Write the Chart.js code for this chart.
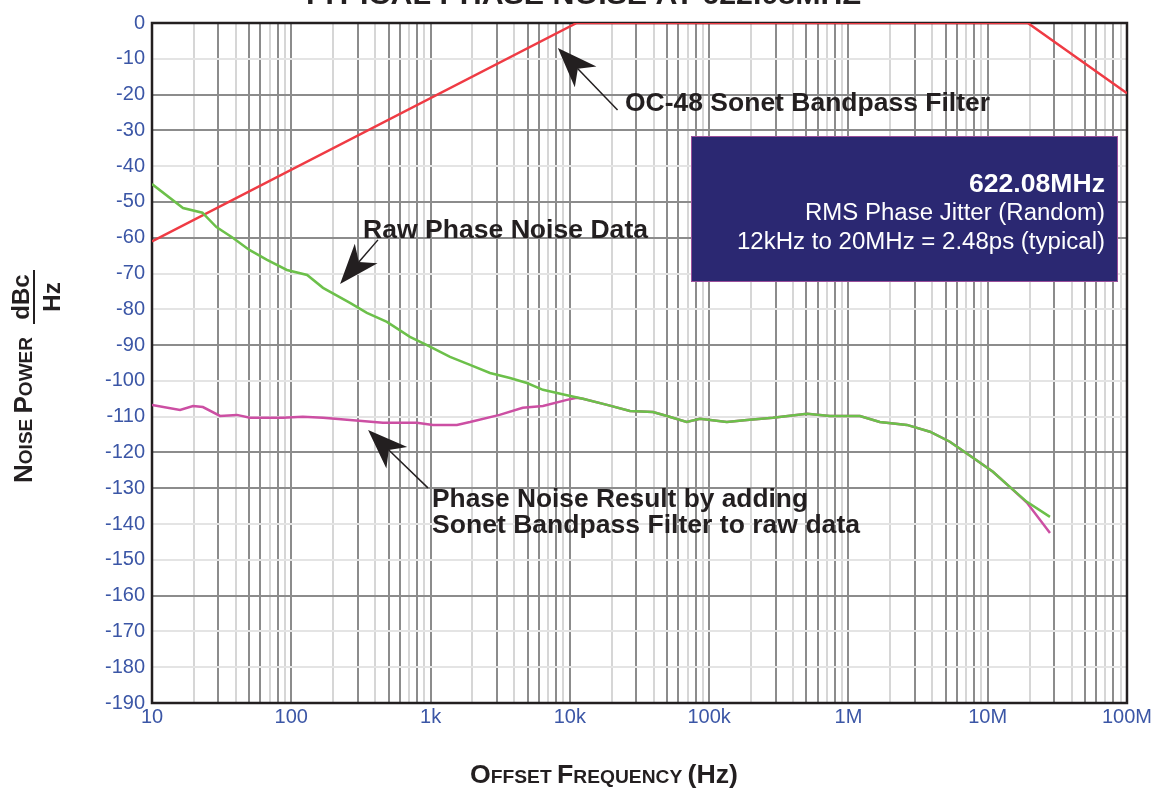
<!DOCTYPE html>
<html>
<head>
<meta charset="utf-8">
<script src="https://cdn.jsdelivr.net/npm/chart.js@4.4.0/dist/chart.umd.min.js"></script>
<style>
html, body { margin:0; padding:0; background:#fff; }
#wrap { width:1154px; height:790px; position:relative; }
</style>
</head>
<body>
<div id="wrap"><canvas id="canvas"></canvas></div>
<script>
// axis ticks
var xDecades = [10, 100, 1e3, 1e4, 1e5, 1e6, 1e7, 1e8];
var xTickLabels = ['10', '100', '1k', '10k', '100k', '1M', '10M', '100M'];

// OC-48 sonet bandpass filter
var filterFreq = [10, 11200, 1.94e7, 1e8];
var filterDb = [-61, 0, 0, -19.6];

// raw phase noise data
var rawFreq = [10, 16.7, 23, 29, 38, 50, 67, 93, 130, 169,
  264, 349, 486, 711, 942, 1380, 1920, 2670, 3720, 4920,
  6410, 9530, 12400, 18500, 27000, 39500, 49800, 69000, 86000, 134000,
  187000, 287000, 504000, 736000, 1.21e6, 1.68e6, 2.63e6, 3.85e6, 5.35e6, 7.84e6,
  1.09e7, 1.44e7, 1.91e7, 2.8e7];
var rawDb = [-45, -51.7, -53, -57, -60, -63.4, -66.2, -69, -70.4, -74,
  -78.2, -81, -83.5, -87.7, -90, -93.3, -95.5, -97.8, -99.2, -100.6,
  -102.5, -104, -105, -106.7, -108.4, -108.7, -109.8, -111.5, -110.6, -111.5,
  -110.9, -110.3, -109.2, -109.8, -109.8, -111.5, -112.3, -114.2, -117, -121.5,
  -125.4, -129.6, -133.8, -138];

// result with filter applied
var resultFreq = [10, 15.9, 19.7, 23.2, 30.8, 40.7, 50.5, 87, 121, 169,
  264, 455, 797, 1040, 1545, 1919, 3130, 4590, 6410, 9530,
  11200, 12400, 18500, 27000, 39500, 49800, 69000, 86000, 134000, 187000, 287000,
  504000, 736000, 1.21e6, 1.68e6, 2.63e6, 3.85e6, 5.35e6, 7.84e6, 1.09e7, 1.44e7,
  1.91e7, 2.8e7];
var resultDb = [-106.7, -108.1, -107, -107.3, -109.8, -109.5, -110.3, -110.3, -110, -110.3,
  -110.9, -111.7, -111.7, -112.3, -112.3, -111.5, -109.5, -107.5, -107, -105.3,
  -104.7, -105, -106.7, -108.4, -108.7, -109.8, -111.5, -110.6, -111.5, -110.9, -110.3,
  -109.2, -109.8, -109.8, -111.5, -112.3, -114.2, -117, -121.5, -125.4, -129.6,
  -134, -142.5];

function pairs(xs, ys) {
  var out = [];
  for (var i = 0; i < xs.length; i++) out.push({x: xs[i], y: ys[i]});
  return out;
}

var darkY = [-20, -30, -50, -60, -90, -120, -130, -160];
var darkX = [1, 3, 5, 6, 8];
var gridDark = '#8c8c8c', gridLight = '#d6d6d6';
var tickBlue = '#3b56a6', ink = '#231f20';
var FONT = '"Liberation Sans", Arial, Helvetica, sans-serif';

function arrow(ctx, x1, y1, x2, y2) {
  // x1,y1 tail -> x2,y2 tip
  var a = Math.atan2(y2 - y1, x2 - x1), L = 40, W = 15;
  var bx = x2 - L * Math.cos(a), by = y2 - L * Math.sin(a);
  var nx = x2 - 0.72 * L * Math.cos(a), ny = y2 - 0.72 * L * Math.sin(a);
  ctx.strokeStyle = ink; ctx.lineWidth = 1.5;
  ctx.beginPath(); ctx.moveTo(x1, y1); ctx.lineTo(nx, ny); ctx.stroke();
  ctx.fillStyle = ink;
  ctx.beginPath();
  ctx.moveTo(x2, y2);
  ctx.lineTo(bx - W * Math.sin(a), by + W * Math.cos(a));
  ctx.lineTo(nx, ny);
  ctx.lineTo(bx + W * Math.sin(a), by - W * Math.cos(a));
  ctx.closePath(); ctx.fill();
}

// draw text stretched/squeezed horizontally to a target width
function fitText(ctx, text, x, y, w, align) {
  var m = ctx.measureText(text).width;
  var sx = w / m;
  ctx.save();
  ctx.textAlign = 'left';
  var left = align === 'right' ? x - w : (align === 'center' ? x - w / 2 : x);
  ctx.translate(left, y);
  ctx.scale(sx, 1);
  ctx.fillText(text, 0, 0);
  ctx.restore();
}

function smallCaps(ctx, parts, cx, y, target) {
  var w = 0;
  parts.forEach(function (p) { ctx.font = 'bold ' + p[1] + 'px ' + FONT; w += ctx.measureText(p[0]).width; });
  var sx = target ? target / w : 1;
  ctx.save();
  ctx.translate(cx - w * sx / 2, y);
  ctx.scale(sx, 1);
  ctx.textAlign = 'left';
  var x = 0;
  parts.forEach(function (p) {
    ctx.font = 'bold ' + p[1] + 'px ' + FONT;
    ctx.fillText(p[0], x, 0);
    x += ctx.measureText(p[0]).width;
  });
  ctx.restore();
}

var decor = {
  id: 'decor',
  beforeDatasetsDraw: function (chart) {
    var a = chart.chartArea, ctx = chart.ctx;
    ctx.save();
    ctx.strokeStyle = ink; ctx.lineWidth = 2.5;
    ctx.strokeRect(a.left, a.top, a.right - a.left, a.bottom - a.top);
    ctx.restore();
  },
  afterDraw: function (chart) {
    var ctx = chart.ctx, xs = chart.scales.x, ys = chart.scales.y;
    function px(f) { return xs.getPixelForValue(f); }
    function py(d) { return ys.getPixelForValue(d); }
    ctx.save();
    ctx.fillStyle = ink;
    ctx.textBaseline = 'alphabetic';

    // title (cut off at top)
    ctx.font = 'bold 27px ' + FONT;
    fitText(ctx, 'TYPICAL PHASE NOISE AT 622.08MHZ', 581, 4, 560, 'center');

    // arrows
    arrow(ctx, px(22000), py(-24.3), px(8200), py(-7));
    arrow(ctx, px(419), py(-60.6), px(224), py(-72.9));
    arrow(ctx, px(957), py(-129.9), px(356), py(-113.7));

    ctx.font = 'bold 26px ' + FONT;
    fitText(ctx, 'OC-48 Sonet Bandpass Filter', 625, 111, 365, 'left');
    fitText(ctx, 'Raw Phase Noise Data', 363, 238, 285, 'left');
    fitText(ctx, 'Phase Noise Result by adding', 432, 507, 376, 'left');
    fitText(ctx, 'Sonet Bandpass Filter to raw data', 432, 533, 428, 'left');

    // info box
    ctx.fillStyle = '#2b2872';
    ctx.fillRect(691, 136, 427, 146);
    ctx.strokeStyle = '#9a4f9a'; ctx.lineWidth = 1;
    ctx.strokeRect(691.5, 136.5, 426, 145);
    ctx.fillStyle = '#ffffff';
    ctx.font = 'bold 25px ' + FONT;
    fitText(ctx, '622.08MHz', 1105, 192, 136, 'right');
    ctx.font = '23px ' + FONT;
    fitText(ctx, 'RMS Phase Jitter (Random)', 1105, 220, 300, 'right');
    fitText(ctx, '12kHz to 20MHz = 2.48ps (typical)', 1105, 249, 368, 'right');

    // x axis title
    ctx.fillStyle = ink;
    smallCaps(ctx, [['O', 25], ['FFSET ', 18], ['F', 25], ['REQUENCY ', 18], ['(Hz)', 25]], 604, 783, 268);

    // y axis title
    ctx.save();
    ctx.translate(32, 410);
    ctx.rotate(-Math.PI / 2);
    smallCaps(ctx, [['N', 26], ['OISE ', 19], ['P', 26], ['OWER', 19]], 0, 0);
    ctx.restore();
    ctx.save();
    ctx.translate(0, 297);
    ctx.rotate(-Math.PI / 2);
    ctx.textAlign = 'center';
    ctx.font = 'bold 24px ' + FONT;
    ctx.fillText('dBc', 0, 29);
    ctx.fillText('Hz', 0, 60);
    ctx.fillRect(-27, 33, 54, 2);
    ctx.restore();

    ctx.restore();
  }
};

var ctx = document.getElementById('canvas').getContext('2d');
var chart = new Chart(ctx, {
  type: 'line',
  data: {
    datasets: [{
      label: 'Raw Phase Noise Data',
      data: pairs(rawFreq, rawDb),
      borderColor: '#6cc04a',
      borderWidth: 2.5,
      pointRadius: 0,
      tension: 0,
      fill: false
    }, {
      label: 'Phase Noise Result',
      data: pairs(resultFreq, resultDb),
      borderColor: '#cc4fa3',
      borderWidth: 2.5,
      pointRadius: 0,
      tension: 0,
      fill: false
    }, {
      label: 'OC-48 Sonet Bandpass Filter',
      data: pairs(filterFreq, filterDb),
      borderColor: '#ef3b44',
      borderWidth: 2.5,
      pointRadius: 0,
      tension: 0,
      fill: false
    }]
  },
  options: {
    responsive: true,
    maintainAspectRatio: false,
    animation: false,
    layout: { padding: { top: 23, right: 27, left: 0, bottom: 0 } },
    plugins: { legend: { display: false }, tooltip: { enabled: false }, title: { display: false } },
    scales: {
      x: {
        type: 'logarithmic',
        min: 10,
        max: 1e8,
        afterBuildTicks: function (scale) {
          var t = [];
          for (var i = 0; i < xDecades.length - 1; i++) {
            t.push({value: xDecades[i]});
            for (var k = 2; k <= 9; k++) t.push({value: k * xDecades[i]});
          }
          t.push({value: xDecades[xDecades.length - 1]});
          scale.ticks = t;
        },
        afterFit: function (scale) { scale.height = 87; },
        border: { display: false },
        grid: {
          drawTicks: false,
          lineWidth: 2,
          color: function (c) {
            if (!c.tick) return gridLight;
            var v = c.tick.value;
            var e = Math.floor(Math.log10(v) + 1e-9);
            var k = Math.round(v / Math.pow(10, e));
            return darkX.indexOf(k) >= 0 ? gridDark : gridLight;
          }
        },
        ticks: {
          autoSkip: false,
          maxRotation: 0,
          padding: 2,
          color: tickBlue,
          font: { family: FONT, size: 20 },
          callback: function (value) {
            var i = xDecades.indexOf(value);
            return i >= 0 ? xTickLabels[i] : '';
          }
        }
      },
      y: {
        min: -190,
        max: 0,
        afterFit: function (scale) { scale.width = 152; },
        border: { display: false },
        grid: {
          drawTicks: false,
          lineWidth: 2,
          color: function (c) {
            if (!c.tick) return gridLight;
            return darkY.indexOf(c.tick.value) >= 0 ? gridDark : '#e4e4e4';
          }
        },
        ticks: {
          stepSize: 10,
          padding: 7,
          color: tickBlue,
          font: { family: FONT, size: 20 }
        }
      }
    }
  },
  plugins: [decor]
});
</script>
</body>
</html>
